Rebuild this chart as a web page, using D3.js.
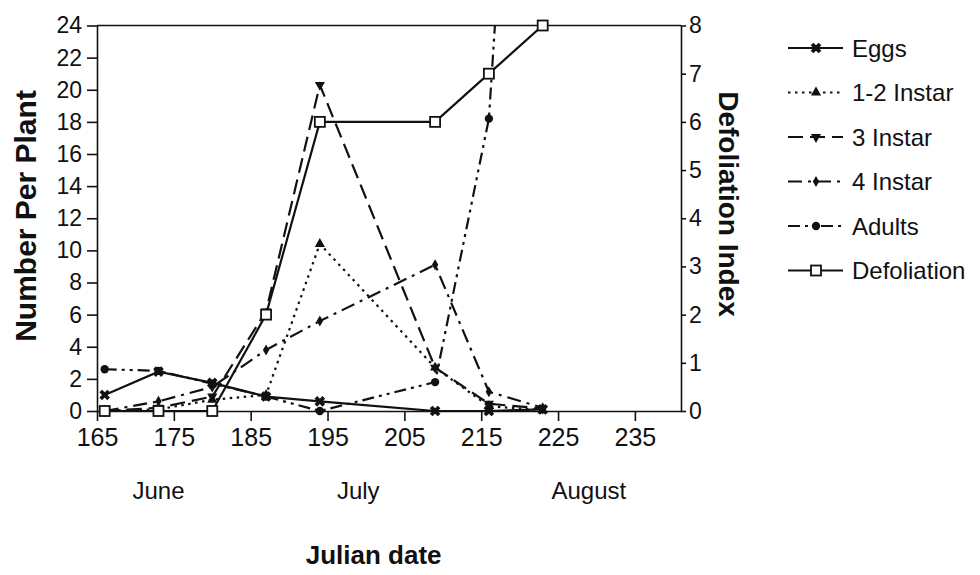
<!DOCTYPE html>
<meta charset="utf-8">
<style>
body { margin: 0; background: #fff; }
text { font-family: "Liberation Sans", Arial, sans-serif; fill: #111; }
.axis path, .axis line { stroke: #111; stroke-width: 1.6px; }
.axis text { font-size: 23px; }
.axis--x text { font-size: 25px; }
.title { font-size: 28px; font-weight: bold; }
.month { font-size: 24px; }
.legend text { font-size: 24px; }
.series { fill: none; stroke: #111; stroke-width: 2.2px; }
</style>
<svg width="980" height="575"></svg>
<script src="https://d3js.org/d3.v7.min.js"></script>
<script>

// julian dates of the samples
var days = [166, 173, 180, 187, 194, 209, 216, 223];

// number per plant (left axis)
var eggs     = [1.0, 2.45, 1.75, 0.9, 0.6, 0, 0, 0.1];
var instar12 = [0, 0.1, 0.7, 1.0, 10.4, 2.7, 0.3, 0.05];
var instar3  = [0, 0.2, 0.9, 6.2, 20.3, 2.7, 0.45, 0.15];
var instar4  = [0, 0.6, 1.5, 3.8, 5.6, 9.1, 1.2, 0.2];
var adults   = [2.6, 2.5, 1.7, 0.9, 0, 1.8, 18.2, 70];

// defoliation index (right axis)
var defoliation = [0, 0, 0, 2, 6, 6, 7, 8];

var xTicks = [165, 175, 185, 195, 205, 215, 225, 235];
var leftTicks = d3.range(0, 25, 2);
var rightTicks = d3.range(0, 9, 1);
var months = [{name: "June", day: 173}, {name: "July", day: 199}, {name: "August", day: 229}];

var svg = d3.select("svg"),
    margin = {top: 25.5, right: 299, bottom: 164, left: 97},
    width = +svg.attr("width") - margin.left - margin.right,
    height = +svg.attr("height") - margin.top - margin.bottom;

var x = d3.scaleLinear().domain([165, 241]).range([0, width]),
    y = d3.scaleLinear().domain([0, 24]).range([height, 0]),
    yR = d3.scaleLinear().domain([0, 8]).range([height, 0]);

var g = svg.append("g")
    .attr("transform", "translate(" + margin.left + "," + margin.top + ")");

g.append("defs").append("clipPath").attr("id", "clip")
  .append("rect").attr("width", width).attr("height", height);

// frame top
g.append("line")
    .attr("x1", 0).attr("x2", width).attr("y1", 0).attr("y2", 0)
    .attr("stroke", "#111").attr("stroke-width", 1.6);

g.append("g")
    .attr("class", "axis axis--x")
    .attr("transform", "translate(0," + height + ")")
    .call(d3.axisBottom(x).tickValues(xTicks).tickSize(10).tickPadding(7).tickSizeOuter(0));

g.append("g")
    .attr("class", "axis")
    .call(d3.axisLeft(y).tickValues(leftTicks).tickSize(10).tickPadding(5).tickSizeOuter(0));

g.append("g")
    .attr("class", "axis")
    .attr("transform", "translate(" + width + ",0)")
    .call(d3.axisRight(yR).tickValues(rightTicks).tickSize(5).tickPadding(3).tickSizeOuter(0));

// month labels
g.selectAll(".month")
  .data(months)
  .enter().append("text")
    .attr("class", "month")
    .attr("x", function(d) { return x(d.day); })
    .attr("y", 473)
    .attr("text-anchor", "middle")
    .text(function(d) { return d.name; });

g.append("text")
    .attr("class", "title")
    .style("font-size", "26px")
    .attr("x", x(201))
    .attr("y", 538)
    .attr("text-anchor", "middle")
    .text("Julian date");

svg.append("text")
    .attr("class", "title")
    .style("font-size", "30px")
    .attr("transform", "translate(36,216) rotate(-90)")
    .attr("text-anchor", "middle")
    .text("Number Per Plant");

svg.append("text")
    .attr("class", "title")
    .attr("transform", "translate(719,204) rotate(90)")
    .attr("text-anchor", "middle")
    .text("Defoliation Index");

var series = [
  {name: "Eggs", values: eggs, scale: y, dash: null, marker: "x"},
  {name: "1-2 Instar", values: instar12, scale: y, dash: "2.5,4.5", marker: "up"},
  {name: "3 Instar", values: instar3, scale: y, dash: "15,7", marker: "down"},
  {name: "4 Instar", values: instar4, scale: y, dash: "14,6,3,6", marker: "diamond"},
  {name: "Adults", values: adults, scale: y, dash: "12,5,3,5,3,5", marker: "circle"},
  {name: "Defoliation", values: defoliation, scale: yR, dash: null, marker: "square"}
];

function drawMarker(sel, type) {
  if (type === "square") {
    sel.append("rect")
        .attr("x", -5).attr("y", -5).attr("width", 10).attr("height", 10)
        .attr("fill", "#fff").attr("stroke", "#111").attr("stroke-width", 1.8);
    return;
  }
  var sym = {
    x: [d3.symbolCross, 70, 45],
    up: [d3.symbolTriangle, 45, 0],
    down: [d3.symbolTriangle, 45, 180],
    diamond: [d3.symbolDiamond, 35, 0],
    circle: [d3.symbolCircle, 55, 0]
  }[type];
  sel.append("path")
      .attr("d", d3.symbol().type(sym[0]).size(sym[1]))
      .attr("transform", "rotate(" + sym[2] + ")")
      .attr("fill", "#111");
}

var plot = g.append("g");

series.forEach(function(s) {
  var pts = days.map(function(d, i) { return {day: d, v: s.values[i]}; });
  var line = d3.line()
      .x(function(d) { return x(d.day); })
      .y(function(d) { return s.scale(d.v); });

  plot.append("path")
      .datum(pts)
      .attr("class", "series")
      .attr("clip-path", "url(#clip)")
      .attr("stroke-dasharray", s.dash)
      .attr("d", line);

  plot.selectAll(null)
    .data(pts.filter(function(d) { return d.v <= s.scale.domain()[1]; }))
    .enter().append("g")
      .attr("transform", function(d) { return "translate(" + x(d.day) + "," + s.scale(d.v) + ")"; })
      .each(function() { drawMarker(d3.select(this), s.marker); });
});

// legend
var legend = svg.append("g")
    .attr("class", "legend")
    .attr("transform", "translate(788,48)");

var item = legend.selectAll("g")
  .data(series)
  .enter().append("g")
    .attr("transform", function(d, i) { return "translate(0," + (i * 44.5) + ")"; });

item.append("line")
    .attr("class", "series")
    .attr("x1", 0).attr("x2", 55)
    .attr("stroke-dasharray", function(d) { return d.dash; });

item.append("g")
    .attr("transform", "translate(28,0)")
    .each(function(d) { drawMarker(d3.select(this), d.marker); });

item.append("text")
    .attr("x", 64)
    .attr("dy", "0.36em")
    .text(function(d) { return d.name; });

</script>
